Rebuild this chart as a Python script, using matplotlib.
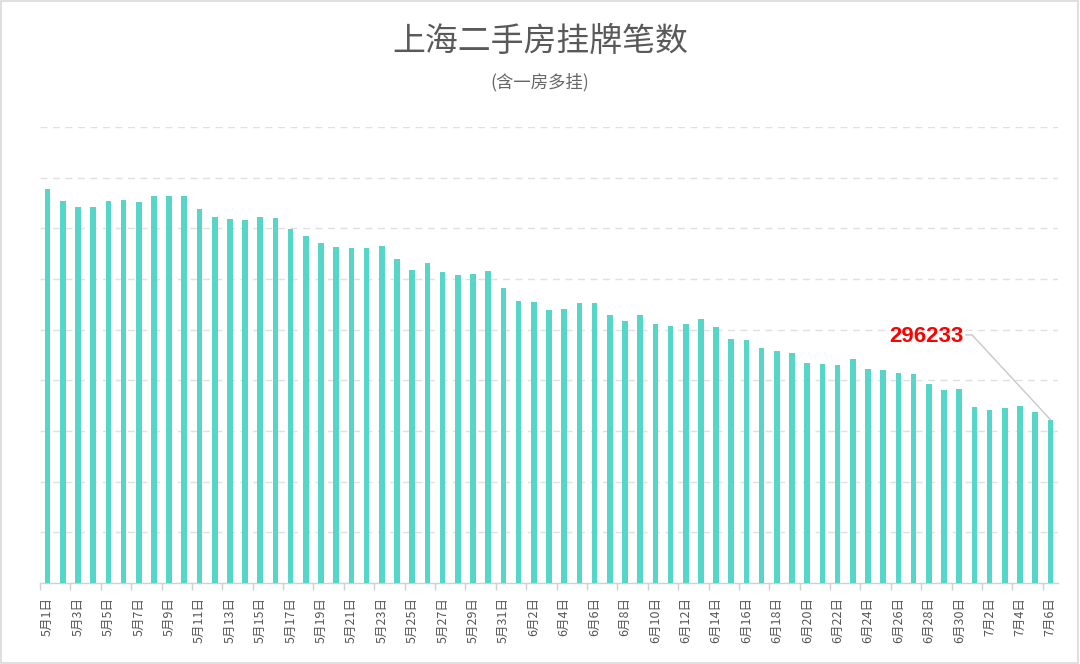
import matplotlib
matplotlib.use("Agg")
import matplotlib.pyplot as plt
from matplotlib.patches import Rectangle

plt.rcParams['font.family'] = ['Noto Sans CJK SC', 'DejaVu Sans']

# dates: 5/1 .. 5/31, 6/1 .. 6/30, 7/1 .. 7/6
dates = ([f"5月{d}日" for d in range(1, 32)] +
         [f"6月{d}日" for d in range(1, 31)] +
         [f"7月{d}日" for d in range(1, 7)])

listings = [
    341800, 339300, 338100, 338100, 339300, 339500, 339100, 340400, 340400, 340400,
    337700, 336300, 335900, 335700, 336300, 336100, 333900, 332400, 331000, 330300,
    330000, 330000, 330400, 327900, 325700, 327100, 325300, 324700, 324900, 325500,
    322200,
    319700, 319400, 317900, 318100, 319200, 319200, 316900, 315700, 316900, 315000,
    314800, 315000, 316100, 314600, 312200, 312000, 310300, 309800, 309400, 307500,
    307300, 307100, 308100, 306300, 306100, 305500, 305200, 303200, 302000, 302200,
    298700, 298100, 298500, 298900, 297700, 296233,
]

title = "上海二手房挂牌笔数"
subtitle = "(含一房多挂)"
y_min = 264000
y_step = 10000

bar_color = "#56d5c9"

fig = plt.figure(figsize=(10.8, 6.64), dpi=100)
ax = fig.add_axes([0.037, 0.122, 0.9426, 0.687])

x = list(range(len(listings)))
ax.bar(x, listings, width=0.37, color=bar_color, zorder=3)

ax.set_xlim(-0.5, len(listings) - 0.5)
ax.set_ylim(y_min, y_min + 9 * y_step)

# dashed horizontal grid, no y labels
for k in range(1, 10):
    ax.axhline(y_min + k * y_step, color="#e0e0e0", lw=1, ls=(0, (5, 4)), zorder=1)
ax.set_yticks([])

for s in ["top", "right", "left"]:
    ax.spines[s].set_visible(False)
ax.spines["bottom"].set_color("#d0d0d0")
ax.spines["bottom"].set_linewidth(1)

# labels on every other bar, tick marks between pairs
ax.set_xticks(x[::2])
ax.set_xticklabels(dates[::2], rotation=90, fontsize=9, color="#555555",
                   va="top", ha="center")
ax.tick_params(axis="x", which="major", length=0, pad=10)
ax.set_xticks([i - 0.5 for i in range(0, len(listings), 2)], minor=True)
ax.tick_params(axis="x", which="minor", length=5, color="#d0d0d0", width=1)

# annotation of last value with a leader line
last = len(listings) - 1
label_x, label_y = last - 5.7, listings[last] + 16400
ax.text(label_x, label_y, str(listings[last]), color="#ff0000", fontsize=16,
        fontweight="bold", ha="right", va="center", family=["Liberation Sans"], zorder=5)
ax.plot([label_x + 0.15, label_x + 0.55, last], [label_y + 300, label_y + 300, listings[last]],
        color="#c8c8c8", lw=1, zorder=4)

fig.text(0.5, 0.937, title, ha="center", va="center", fontsize=23.7, color="#595959")
fig.text(0.5, 0.876, subtitle, ha="center", va="center", fontsize=12.5, color="#666666")

# thin frame around the picture
fig.patches.append(Rectangle((0.0005, 0.001), 0.998, 0.997, transform=fig.transFigure,
                             fill=False, edgecolor="#d9d9d9", lw=1.2))

fig.savefig("out.png", dpi=100, facecolor="white")
